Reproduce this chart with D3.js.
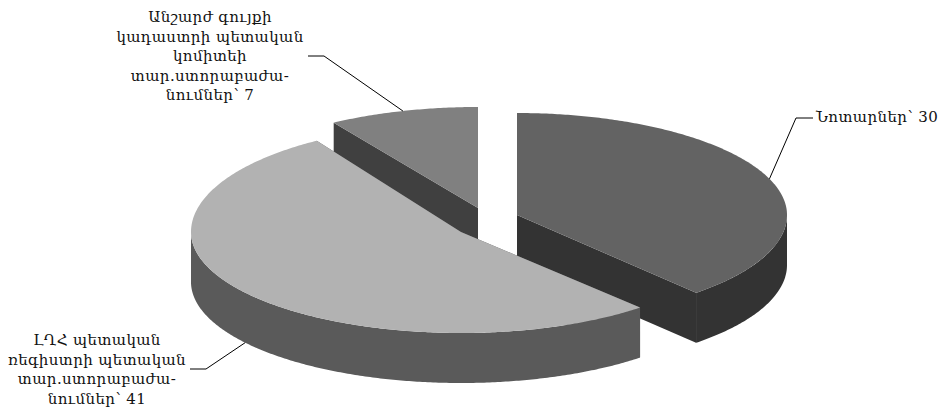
<!DOCTYPE html>
<html>
<head>
<meta charset="utf-8">
<style>
  html, body { margin: 0; padding: 0; background: #fff; }
  svg { display: block; }
  text { font-family: "DejaVu Serif", serif; font-size: 15px; letter-spacing: 0.4px; fill: #111; }
</style>
<script src="https://cdn.jsdelivr.net/npm/d3@7"></script>
</head>
<body>
<div id="wrapper"></div>
<script>
const categories = ['Նոտարներ', 'ԼՂՀ պետական ռեգիստրի պետական տար.ստորաբաժանումներ', 'Անշարժ գույքի կադաստրի պետական կոմիտեի տար.ստորաբաժանումներ'];
const values = [30, 41, 7];
const labelLines = [
    ['Նոտարներ՝ 30'],
    ['ԼՂՀ պետական', 'ռեգիստրի պետական', 'տար.ստորաբաժա-', 'նումներ՝ 41'],
    ['Անշարժ գույքի', 'կադաստրի պետական', 'կոմիտեի', 'տար.ստորաբաժա-', 'նումներ՝ 7']
];
const topColors = ['#636363', '#b2b2b2', '#808080'];
const sideColors = ['#333333', '#5a5a5a', '#404040'];

const dimensions = { width: 941, height: 410, rx: 270, depth: 50 };

// where each exploded slice sits, and how its label is hung
// the far half of the disc is a bit flatter or rounder than the near half (chart perspective)
const layout = [
    { cx: 517, cy: 215, far: 102, near: 104, elbow: [796, 118], end: [813, 118], anchor: 'start', textX: 816, textY: 122 },
    { cx: 461, cy: 232, far: 108, near: 101, elbow: [206, 369], end: [190, 369], anchor: 'middle', textX: 97, textY: 345 },
    { cx: 478, cy: 208, far: 101, near: 101, elbow: [324, 56], end: [308, 56], anchor: 'middle', textX: 210, textY: 22 }
];
const lineHeight = 19.5;

const wrapper = d3.select('#wrapper')
    .append('svg')
    .attr('width', dimensions.width)
    .attr('height', dimensions.height);

const pie = d3.pie().sort(null).startAngle(0).endAngle(2 * Math.PI);
const slices = pie(values);

const xScale = d3.scaleLinear().domain([-1, 1]).range([-dimensions.rx, dimensions.rx]);
const yScales = layout.map(l => d3.scaleLinear().domain([-1, 0, 1]).range([-l.far, 0, l.near]));

// angle is clockwise from the top, like d3.pie
const px = (a, i) => layout[i].cx + xScale(Math.sin(a));
const py = (a, i) => layout[i].cy + yScales[i](-Math.cos(a));

const angles = (a0, a1) => {
    const n = Math.max(2, Math.ceil((a1 - a0) / 0.01));
    return d3.range(n + 1).map(k => a0 + (a1 - a0) * k / n);
};

const line = d3.line();

const drawOrder = [2, 0, 1];

drawOrder.forEach(i => {
    const s = slices[i];
    const l = layout[i];
    const g = wrapper.append('g');
    const d = dimensions.depth;

    // flat cut faces, start and end of the slice
    [s.startAngle, s.endAngle].forEach(a => {
        g.append('path')
            .attr('d', line([
                [l.cx, l.cy], [px(a, i), py(a, i)],
                [px(a, i), py(a, i) + d], [l.cx, l.cy + d]
            ]) + 'Z')
            .attr('fill', sideColors[i]);
    });

    // curved outer wall, only the part turned to the viewer
    const from = Math.max(s.startAngle, Math.PI / 2);
    const to = Math.min(s.endAngle, 3 * Math.PI / 2);
    if (to > from) {
        const arcAngles = angles(from, to);
        const upper = arcAngles.map(a => [px(a, i), py(a, i)]);
        const lower = arcAngles.map(a => [px(a, i), py(a, i) + d]).reverse();
        g.append('path')
            .attr('d', line(upper.concat(lower)) + 'Z')
            .attr('fill', sideColors[i]);
    }

    // top face
    const rim = angles(s.startAngle, s.endAngle).map(a => [px(a, i), py(a, i)]);
    g.append('path')
        .attr('d', line([[l.cx, l.cy]].concat(rim)) + 'Z')
        .attr('fill', topColors[i]);
});

// leader lines and labels
slices.forEach((s, i) => {
    const l = layout[i];
    const mid = (s.startAngle + s.endAngle) / 2;
    const touch = [px(mid, i), py(mid, i) + (i === 1 ? dimensions.depth : 0)];

    wrapper.append('path')
        .attr('d', line([touch, l.elbow, l.end]))
        .attr('fill', 'none')
        .attr('stroke', '#000')
        .attr('stroke-width', 1);

    wrapper.append('text')
        .attr('text-anchor', l.anchor)
        .selectAll('tspan')
        .data(labelLines[i])
        .join('tspan')
        .attr('x', l.textX)
        .attr('y', (t, j) => l.textY + j * lineHeight)
        .text(t => t);
});
</script>
</body>
</html>
